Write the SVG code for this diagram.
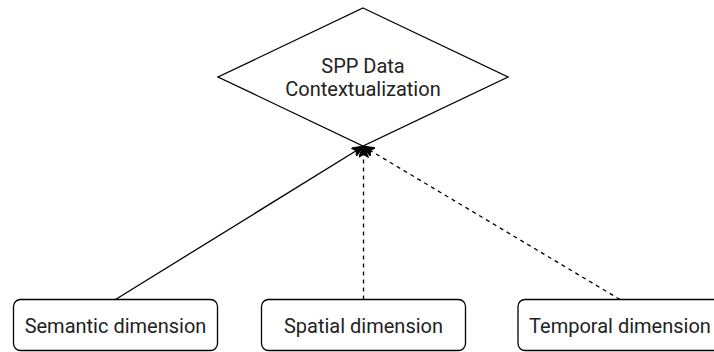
<svg xmlns="http://www.w3.org/2000/svg" width="714" height="352" viewBox="0 0 714 352">
  <style>
    .shape { fill: #ffffff; stroke: #000000; stroke-width: 1.3; }
    .label { font-family: Roboto, "Liberation Sans", Arial, sans-serif; font-size: 20px; fill: #222222; text-anchor: middle; }
    .edge { fill: none; stroke: #000000; stroke-width: 1.3; }
    .dashed { stroke-dasharray: 4 4; }
  </style>
  <defs>
    <marker id="arrow" viewBox="0 0 12 10" refX="11" refY="5" markerWidth="12" markerHeight="10" markerUnits="userSpaceOnUse" orient="auto">
      <path d="M0,0 L12,5 L0,10 L3,5 Z" fill="#000000" stroke="#000000" stroke-width="1"/>
    </marker>
  </defs>

  <rect width="714" height="352" fill="#ffffff"/>

  <g id="connectors">
    <path class="edge" d="M115.5,299.5 L363,146.5" marker-end="url(#arrow)"/>
    <path class="edge dashed" d="M363.5,299.5 L363.5,146.5" marker-end="url(#arrow)"/>
    <path class="edge dashed" d="M620,299.5 L363.5,146.5" marker-end="url(#arrow)"/>
  </g>

  <g id="spp-data-contextualization">
    <path class="shape" d="M363,8 L508,77 L363,146 L218,77 Z"/>
    <text class="label" x="363" y="73">SPP Data</text>
    <text class="label" x="363" y="96">Contextualization</text>
  </g>

  <g id="semantic-dimension">
    <rect class="shape" x="13.5" y="299.5" width="204" height="51" rx="7"/>
    <text class="label" x="115.5" y="333">Semantic dimension</text>
  </g>

  <g id="spatial-dimension">
    <rect class="shape" x="261.5" y="299.5" width="204" height="51" rx="7"/>
    <text class="label" x="363.5" y="333">Spatial dimension</text>
  </g>

  <g id="temporal-dimension">
    <rect class="shape" x="518" y="299.5" width="204" height="51" rx="7"/>
    <text class="label" x="620" y="333">Temporal dimension</text>
  </g>
</svg>
